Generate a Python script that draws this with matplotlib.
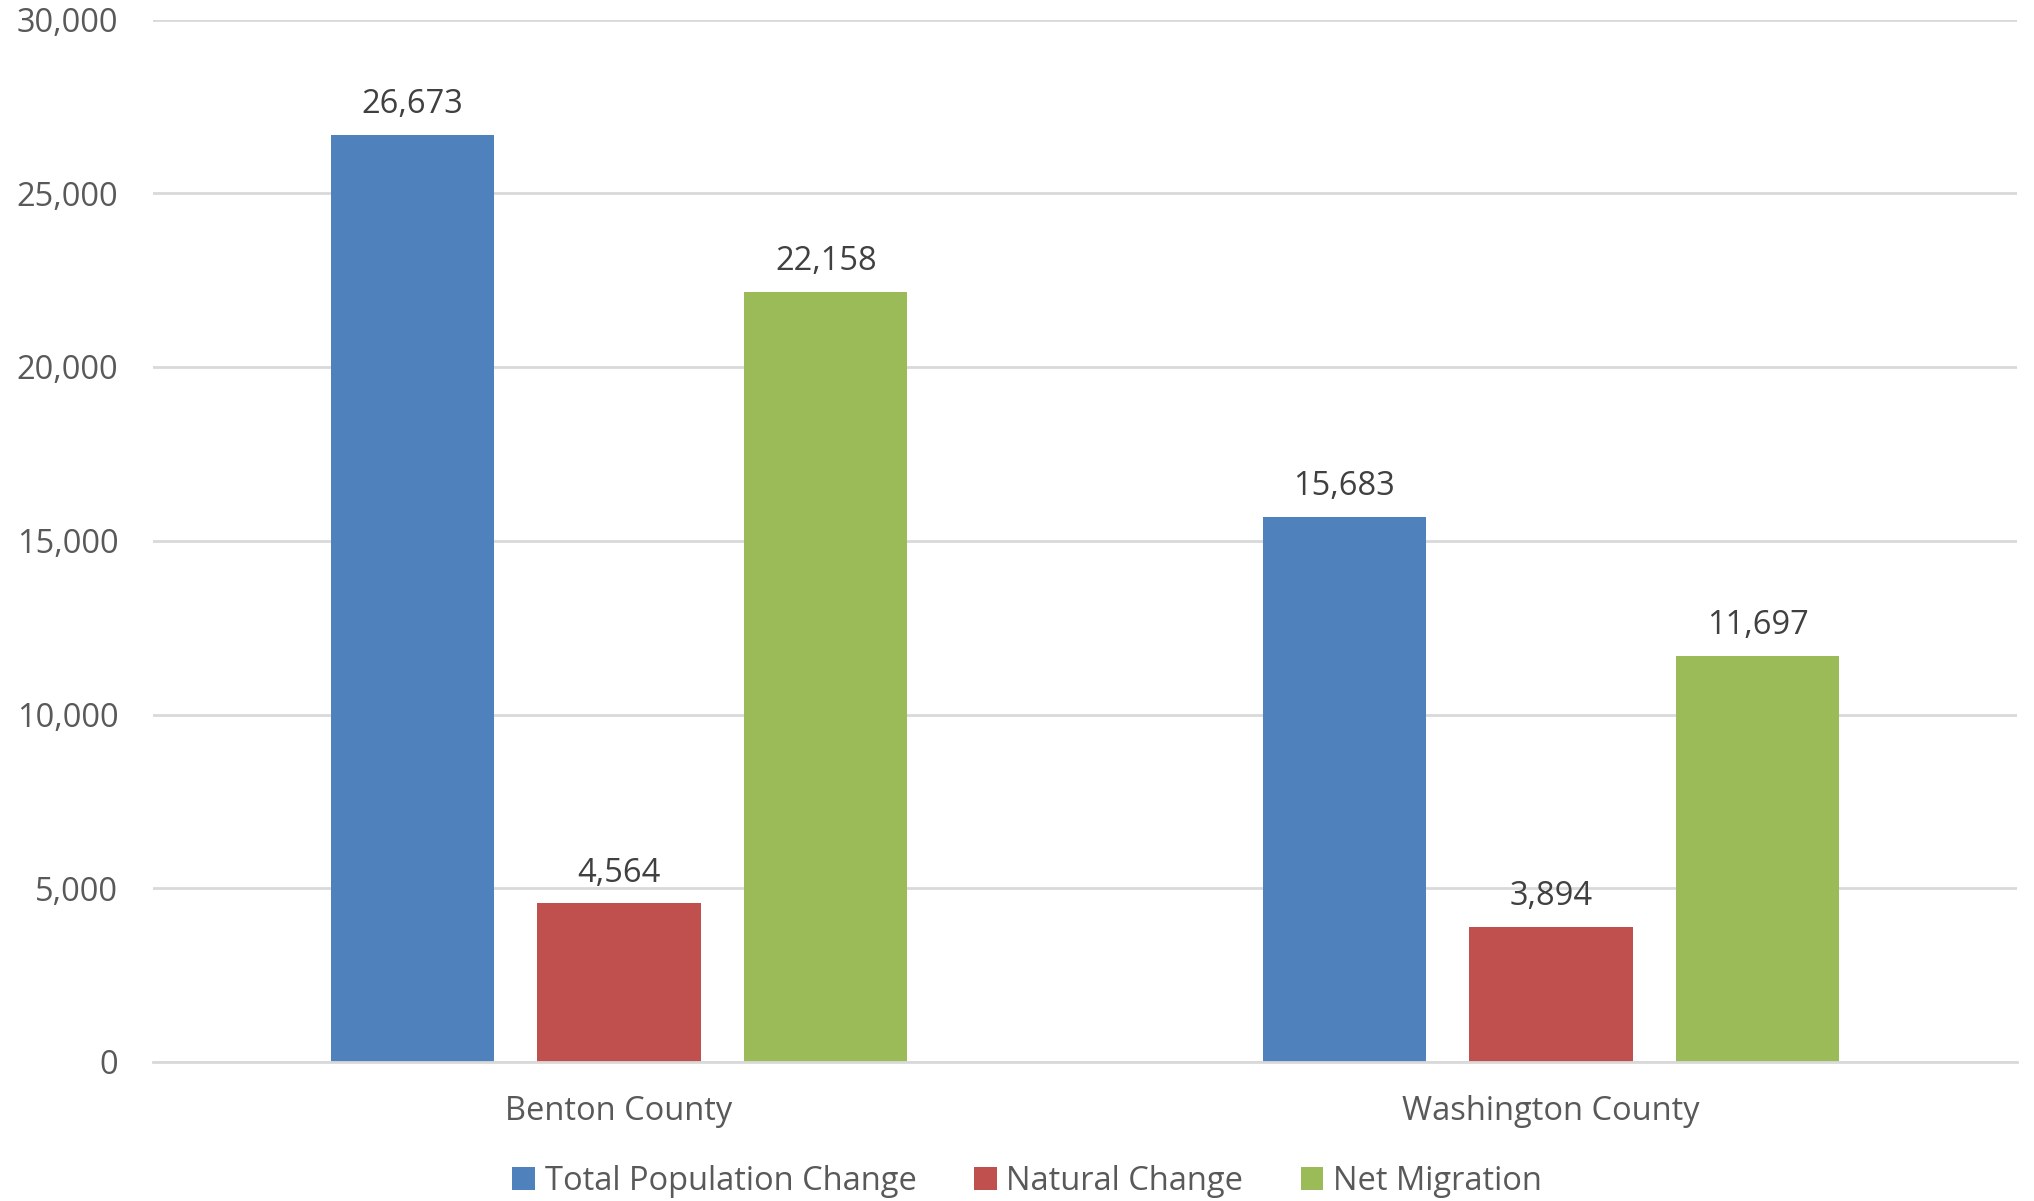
import matplotlib.pyplot as plt
import numpy as np

counties = ['Benton County', 'Washington County']
series = ['Total Population Change', 'Natural Change', 'Net Migration']
total_change = [26673, 15683]
natural_change = [4564, 3894]
net_migration = [22158, 11697]
colors = ['#4f81bd', '#c0504d', '#9bbb59']

plt.rcParams['font.family'] = ['Open Sans', 'DejaVu Sans']
text_color = '#595959'
fs = 23.5

fig = plt.figure(figsize=(20.34, 12.01), dpi=100)
ax = fig.add_axes([153 / 2034, 1 - 1062 / 1201, 1864 / 2034, (1062 - 19.5) / 1201])

x = np.arange(len(counties))
width = 0.175
offset = 0.222
for i, (vals, name) in enumerate(zip([total_change, natural_change, net_migration], series)):
    bars = ax.bar(x + (i - 1) * offset, vals, width, color=colors[i], label=name, zorder=3)
    for b, v in zip(bars, vals):
        ax.annotate(f'{v:,}', (b.get_x() + b.get_width() / 2, v), xytext=(0, 10),
                    textcoords='offset points', ha='center', va='bottom',
                    fontsize=fs, color='#404040')

ax.set_xlim(-0.5, 1.5)
ax.set_ylim(0, 30000)
ax.set_yticks(np.arange(0, 30001, 5000))
ax.yaxis.set_major_formatter(plt.FuncFormatter(lambda v, p: f'{int(v):,}'))
ax.set_xticks(x)
ax.set_xticklabels(counties)
ax.tick_params(axis='both', length=0, labelsize=fs, colors=text_color)
ax.tick_params(axis='y', pad=25)
ax.tick_params(axis='x', pad=24)
ax.grid(axis='y', color='#d9d9d9', linewidth=2, zorder=0)
for s in ['top', 'right', 'left']:
    ax.spines[s].set_visible(False)
ax.spines['bottom'].set_color('#d9d9d9')
ax.spines['bottom'].set_linewidth(2)
ax.spines['bottom'].set_zorder(4)

handles, labels = ax.get_legend_handles_labels()
leg = fig.legend(handles, labels, loc='center', bbox_to_anchor=(0.505, 0.016), ncol=3,
                 frameon=False, fontsize=fs, handlelength=0.7, handleheight=0.7,
                 handletextpad=0.3, columnspacing=1.75)
for t in leg.get_texts():
    t.set_color(text_color)

fig.savefig('out.png', dpi=100)
